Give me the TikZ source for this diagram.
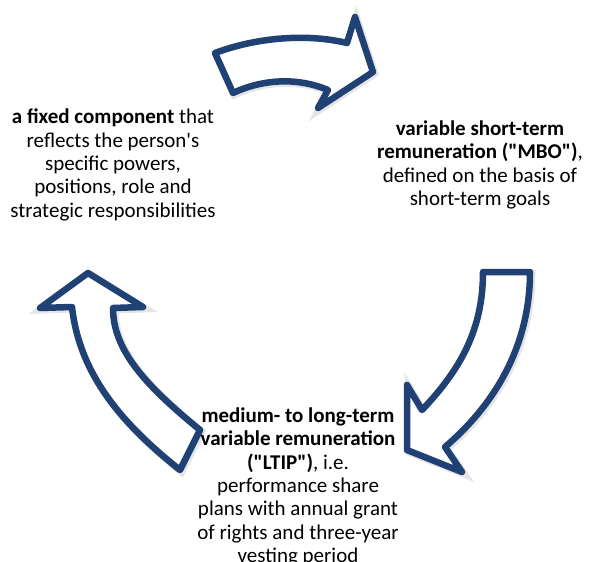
\documentclass[tikz,border=0pt]{standalone}
\usepackage{fontspec}
\newfontfamily\carlito{Carlito}
\definecolor{arrowblue}{RGB}{31,65,115}
\tikzset{
  blockarrow/.style={draw=arrowblue, fill=white, line width=6.5pt, line join=round,
    preaction={draw=black, draw opacity=0.1, line width=8pt,
      transform canvas={xshift=1.5pt, yshift=-1.5pt}}},
  txt/.style={align=center, inner sep=0pt, font=\carlito\fontsize{21}{23.4}\selectfont}
}

\begin{document}
\begin{tikzpicture}[x=1pt, y=-1pt]

             \useasboundingbox (0,0) rectangle (590,562);

             \draw [blockarrow] (215,53) .. controls (255,38) and (305,33) .. (347,43)
                   -- (355,17) -- (373,72) -- (318,108) -- (328,90)
                   .. controls (300,78) and (265,78) .. (233,93) -- cycle;

             \draw [blockarrow] (483,272) -- (530,272)
                   .. controls (530,340) and (500,400) .. (445,447)
                   -- (462,472) -- (407,450) -- (407,385) -- (422,410)
                   .. controls (460,370) and (483,330) .. cycle;

             \draw [blockarrow] (180,470) .. controls (130,430) and (80,380) .. (72,307)
                   -- (40,308) -- (88,273) -- (143,307) -- (113,308)
                   .. controls (113,350) and (145,385) .. (200,430) -- cycle;

             \node [txt] (fixed) at (113,165)
                   {\textbf{a fixed component} that\\reflects the person's\\specific powers,\\positions, role and\\strategic responsibilities};

             \node [txt] (mbo) at (480,165)
                   {\textbf{variable short-term}\\\textbf{remuneration ("MBO")},\\defined on the basis of\\short-term goals};

             \node [txt] (ltip) at (298,487)
                   {\textbf{medium- to long-term}\\\textbf{variable remuneration}\\\textbf{("LTIP")}, i.e.\\performance share\\plans with annual grant\\of rights and three-year\\vesting period};

          \end{tikzpicture}
\end{document}
